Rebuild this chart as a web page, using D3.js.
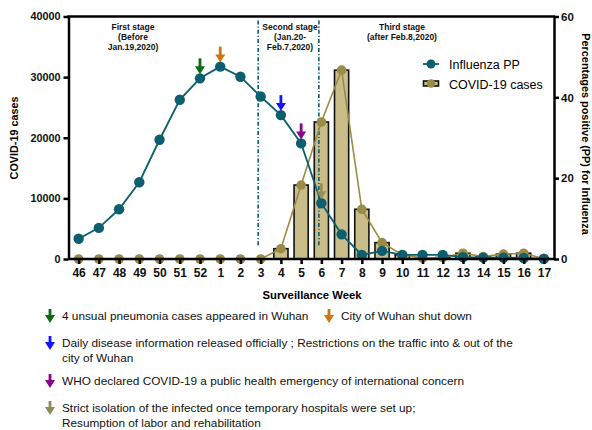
<!DOCTYPE html>
<meta charset="utf-8">
<script src="https://cdn.jsdelivr.net/npm/d3@7"></script>
<style>
body { margin: 0; background: #fff; }
text { font-family: Arial, "Liberation Sans", sans-serif; }
.tick text { font-weight: bold; fill: #111; }
.axis path, .axis line { stroke: #000; stroke-width: 2.5; }
.stage { font-size: 8.5px; font-weight: bold; text-anchor: middle; fill: #111; }
.note { font-size: 11.8px; fill: #111; }
</style>
<div id="vis"></div>
<script>

// data
var weeks = ["46","47","48","49","50","51","52","1","2","3","4","5","6","7","8","9","10","11","12","13","14","15","16","17"];
var covidCases = [0,0,0,0,0,0,0,0,0,0,1700,12200,22600,31150,8200,2700,700,150,250,950,400,800,950,50];
var influenzaPP = [5.0,7.7,12.3,19.0,29.5,39.4,44.7,47.6,45.1,40.2,35.6,28.6,13.8,6.1,1.0,2.0,1.0,1.0,1.0,0.45,0.35,0.35,0.25,0.05];
var leftTicks = [0,10000,20000,30000,40000];
var rightTicks = [0,20,40,60];
var stageWeeks = ["3","6"];
var stageLabels = [["First stage","(Before","Jan.19,2020)"],["Second stage","(Jan.20-","Feb.7,2020)"],["Third stage","(after Feb.8,2020)"]];
var eventWeeks = ["52","1","4","5","6"];
var eventColors = ["#0b6b12","#d0760e","#1414ff","#86078a","#8c8a55"];
var eventText = [
  ["4 unsual pneumonia cases appeared in Wuhan"],
  ["City of Wuhan shut down"],
  ["Daily disease information released officially ; Restrictions on the traffic into & out of the","city of Wuhan"],
  ["WHO declared COVID-19 a public health emergency of international concern"],
  ["Strict isolation of the infected once temporary hospitals were set up;","Resumption of labor and rehabilitation"]
];

var teal = "#0d5e6e", olive = "#9a8b45", barFill = "#c9be8a";

var W = 592, H = 430;
var L = 68.5, R = 554, T = 16.5, B = 259;

var svg = d3.select("#vis").append("svg").attr("width", W).attr("height", H);

var x = d3.scalePoint().domain(weeks).range([L, R]).padding(0.5);
var yL = d3.scaleLinear().domain([0, 40000]).range([B, T]);
var yR = d3.scaleLinear().domain([0, 60]).range([B, T]);

var bw = x.step() * 0.7;

// bars
svg.selectAll(".bar")
  .data(weeks)
  .enter().append("rect")
    .attr("x", function(d) { return x(d) - bw / 2; })
    .attr("y", function(d, i) { return yL(covidCases[i]); })
    .attr("width", bw)
    .attr("height", function(d, i) { return B - yL(covidCases[i]); })
    .attr("fill", barFill)
    .attr("stroke", "#111")
    .attr("stroke-width", 1.6);

// stage dividers
svg.selectAll(".divider")
  .data(stageWeeks)
  .enter().append("line")
    .attr("x1", function(d) { return x(d) - 2.5; })
    .attr("x2", function(d) { return x(d) - 2.5; })
    .attr("y1", T + 4)
    .attr("y2", B - 12)
    .attr("stroke", teal)
    .attr("stroke-width", 1.6)
    .attr("stroke-dasharray", "4,2,1.2,2");

// covid line
var lineL = d3.line().x(function(d, i) { return x(weeks[i]); }).y(function(d) { return yL(d); });
svg.append("path").datum(covidCases)
  .attr("d", lineL).attr("fill", "none").attr("stroke", olive).attr("stroke-width", 1.6);
svg.selectAll(".cpt").data(covidCases).enter().append("circle")
  .attr("cx", function(d, i) { return x(weeks[i]); })
  .attr("cy", function(d) { return yL(d); })
  .attr("r", 4.8).attr("fill", olive);

// influenza line
var lineR = d3.line().x(function(d, i) { return x(weeks[i]); }).y(function(d) { return yR(d); });
svg.append("path").datum(influenzaPP)
  .attr("d", lineR).attr("fill", "none").attr("stroke", teal).attr("stroke-width", 1.8);
svg.selectAll(".ipt").data(influenzaPP).enter().append("circle")
  .attr("cx", function(d, i) { return x(weeks[i]); })
  .attr("cy", function(d) { return yR(d); })
  .attr("r", 5.2).attr("fill", teal);

// arrow glyph: tip at (0,0), pointing down
function arrow(g, color, len) {
  g.append("rect").attr("x", -1.4).attr("y", -len).attr("width", 2.8).attr("height", len - 6).attr("fill", color);
  g.append("path").attr("d", "M-5,-8 L5,-8 L0,0 Z").attr("fill", color);
}

eventWeeks.forEach(function(w, i) {
  var idx = weeks.indexOf(w);
  var g = svg.append("g")
    .attr("transform", "translate(" + x(w) + "," + (yR(influenzaPP[idx]) - 4) + ")")
    .attr("opacity", i == 4 ? 0.85 : 1);
  arrow(g, eventColors[i], 16);
});

// axes
svg.append("g").attr("class", "axis")
  .attr("transform", "translate(" + L + ",0)")
  .call(d3.axisLeft(yL).tickValues(leftTicks).tickSize(5).tickSizeOuter(0).tickFormat(d3.format("d")))
  .call(function(g) { g.selectAll("text").attr("font-size", 10.8).attr("x", -8); });

svg.append("g").attr("class", "axis")
  .attr("transform", "translate(" + R + ",0)")
  .call(d3.axisRight(yR).tickValues(rightTicks).tickSize(5).tickSizeOuter(0))
  .call(function(g) { g.selectAll("text").attr("font-size", 11.5).attr("x", 7); });

svg.append("g").attr("class", "axis")
  .attr("transform", "translate(0," + B + ")")
  .call(d3.axisBottom(x).tickSize(5).tickSizeOuter(0))
  .call(function(g) { g.select(".domain").attr("d", "M" + L + ",0H" + R); g.selectAll("text").attr("font-size", 12).attr("y", 9); });

svg.append("line").attr("x1", L - 1.2).attr("x2", R + 1.2).attr("y1", T).attr("y2", T)
  .attr("stroke", "#000").attr("stroke-width", 2.5);

// axis titles
svg.append("text").attr("transform", "translate(18,138) rotate(-90)")
  .attr("text-anchor", "middle").attr("font-size", 10.8).attr("font-weight", "bold").text("COVID-19 cases");
svg.append("text").attr("transform", "translate(582,134) rotate(90)")
  .attr("text-anchor", "middle").attr("font-size", 10.9).attr("font-weight", "bold").text("Percentages positive (PP) for Influenza");
svg.append("text").attr("x", 312).attr("y", 299)
  .attr("text-anchor", "middle").attr("font-size", 11.3).attr("font-weight", "bold").text("Surveillance Week");

// stage labels
var stageX = [133, 290, 402];
stageLabels.forEach(function(lines, i) {
  lines.forEach(function(s, j) {
    svg.append("text").attr("class", "stage").attr("x", stageX[i]).attr("y", 30 + j * 10).text(s);
  });
});

// legend
var lg = svg.append("g").attr("transform", "translate(423,64)");
lg.append("line").attr("x1", 0).attr("x2", 16).attr("stroke", teal).attr("stroke-width", 1.8);
lg.append("circle").attr("cx", 8).attr("r", 4.5).attr("fill", teal);
lg.append("text").attr("x", 26).attr("y", 4.5).attr("font-size", 12.5).text("Influenza PP");
lg.append("rect").attr("x", 0.5).attr("y", 17).attr("width", 15).attr("height", 5).attr("fill", barFill).attr("stroke", "#111").attr("stroke-width", 1.6);
lg.append("circle").attr("cx", 8).attr("cy", 19.5).attr("r", 4.2).attr("fill", olive);
lg.append("text").attr("x", 26).attr("y", 24.5).attr("font-size", 12.5).text("COVID-19 cases");

// event notes below the chart
var notePos = [[50, 316], [329, 316], [50, 343], [50, 381], [50, 408]];
eventText.forEach(function(lines, i) {
  var g = svg.append("g").attr("transform", "translate(" + notePos[i][0] + "," + (notePos[i][1] + 7) + ")");
  arrow(g, eventColors[i], 14);
  lines.forEach(function(s, j) {
    g.append("text").attr("class", "note").attr("x", 12).attr("y", -3 + j * 14.5).text(s);
  });
});

</script>
